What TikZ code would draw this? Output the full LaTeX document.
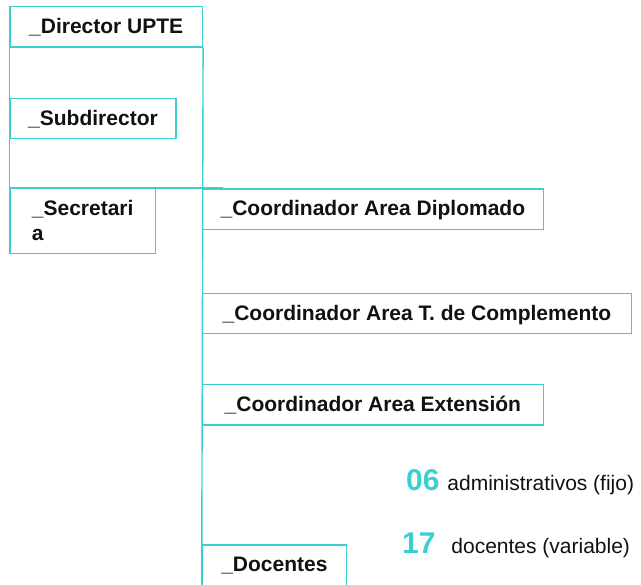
\documentclass[tikz,border=0pt]{standalone}
\usepackage{fontspec}
\setmainfont{Liberation Sans}
\usetikzlibrary{calc, positioning}
\definecolor{turq}{HTML}{3DCFCF}
\definecolor{inkblack}{HTML}{111111}

\begin{document}
\begin{tikzpicture}[
    x=1pt, y=1pt,
    orgbox/.style={
        draw=turq, line width=1.4pt, rectangle,
        anchor=north west, align=left,
        inner xsep=14.5pt, inner ysep=0pt,
        font=\fontsize{21}{25}\selectfont\bfseries, text=inkblack,
        text height=26.7pt, text depth=13.6pt
    },
    spine/.style={
        draw=turq, line width=1.4pt
    },
    stat/.style={
        anchor=base west, inner sep=0pt,
        font=\fontsize{21}{25}\selectfont, text=inkblack
    },
]
\newcommand{\bignum}[1]{\textcolor{turq}{\fontsize{30}{30}\selectfont\bfseries #1}}

% === Canvas ===
\useasboundingbox (0,0) rectangle (641,-585);

% === Left column ===
\node[orgbox, minimum width=192.4pt] (dir) at (9.3,-6) {\_Director UPTE};
\node[orgbox, minimum width=166pt] (sub) at (9.3,-97.7) {\_Subdirector};
\node[orgbox, minimum width=145.4pt, text height=51.7pt, text depth=13pt] (sec) at (9.3,-188) {\_Secretari\\a};

% === Coordinators ===
\node[orgbox, minimum width=341pt] (cdip) at (201.7,-188.3) {\_Coordinador Area Diplomado};
\node[orgbox, minimum width=429pt] (ccom) at (201.7,-292.7) {\_Coordinador Area T. de Complemento};
\node[orgbox, minimum width=341pt] (cext) at (201.7,-384) {\_Coordinador Area Extensión};
\node[orgbox, minimum width=144pt] (doc) at (201.7,-544.3) {\_Docentes};

% === Connecting lines ===
\coordinate (tick) at (223,-188);
\draw[spine] (dir.south west) -- (sub.north west);
\draw[spine] (sub.south west) -- (sec.north west);
\draw[spine] (sec.north west) -- (tick);
\draw[spine] (dir.south east) -- (doc.south west);

% === Staff counts ===
\node[stat] (adm) at (406,-491) {\bignum{06}\hspace{2pt} administrativos (fijo)};
\node[stat] (docn) at (402,-554) {\bignum{17}\hspace{10pt} docentes (variable)};

\end{tikzpicture}
\end{document}
